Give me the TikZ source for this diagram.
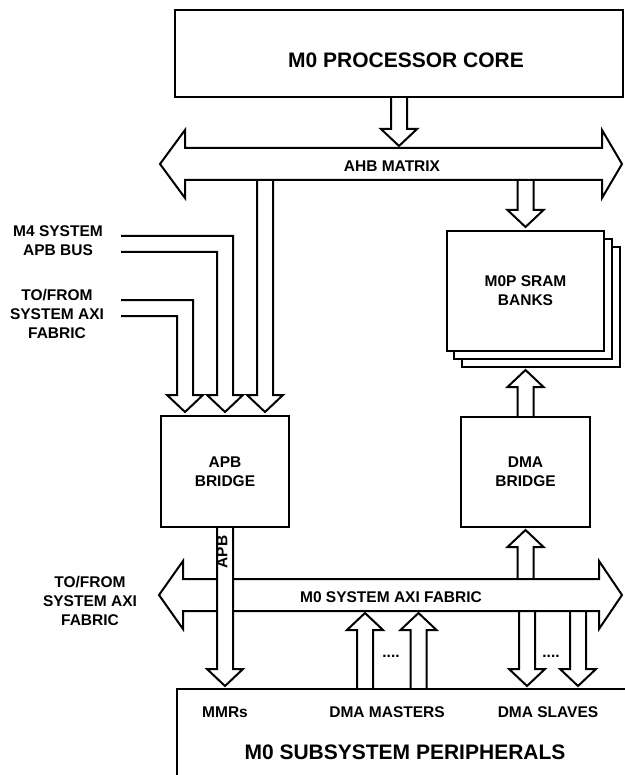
\documentclass[tikz,border=0pt]{standalone}
\usepackage{fontspec}
\setmainfont{Liberation Sans}
\usetikzlibrary{calc}

\tikzset{
  lbl/.style={font=\fontsize{15.5}{19}\selectfont\bfseries, align=center, inner sep=0pt},
  biglbl/.style={font=\fontsize{21}{25}\selectfont\bfseries, inner sep=0pt},
  box/.style={draw, fill=white, inner sep=0pt},
  bus/.style={draw, fill=white},
  % hollow block arrow, tail open, tip at target
  vbus/.style={to path={let \p1=(\tikztostart), \p2=(\tikztotarget),
      \p3=($(\tikztotarget)!17pt!(\tikztostart)$) in
      (\x2-8pt,\y1) -- (\x2-8pt,\y3) -- (\x2-18pt,\y3) -- (\x2,\y2)
      -- (\x2+18pt,\y3) -- (\x2+8pt,\y3) -- (\x2+8pt,\y1)}},
  % two lines from a label, bent down into a block arrow
  feed/.style={to path={let \p1=(\tikztostart), \p2=(\tikztotarget) in
      (\x1,\y1+8pt) -- (\x2+8pt,\y1+8pt) -- (\x2+8pt,\y2+17pt) -- (\x2+18pt,\y2+17pt)
      -- (\x2,\y2) -- (\x2-18pt,\y2+17pt) -- (\x2-8pt,\y2+17pt) -- (\x2-8pt,\y1-8pt)
      -- (\x1,\y1-8pt)}}
}

\begin{document}
\begin{tikzpicture}[x=1pt, y=-1pt, line width=2pt]
  \useasboundingbox (0,0) rectangle (624,775);

  % boxes
  \node[box, minimum width=448, minimum height=87] (core) at (399,53.5) {};
  \node[biglbl] (corelbl) at (406,60) {M0 PROCESSOR CORE};
  \node[box, minimum width=158, minimum height=120] (sram3) at (541,307) {};
  \node[box, minimum width=158, minimum height=120] (sram2) at (533,299) {};
  \node[box, lbl, minimum width=157, minimum height=120] (sram) at (525.5,291) {M0P SRAM\\BANKS};
  \node[box, lbl, minimum width=128, minimum height=111] (apb) at (225,471.5) {APB\\BRIDGE};
  \node[box, lbl, minimum width=129, minimum height=110] (dma) at (525.5,472) {DMA\\BRIDGE};
  \node[box, minimum width=470, minimum height=110, anchor=north west] (periph) at (176,688) {};

  % AHB matrix bus
  \draw[bus] (160,164) -- (185,130) -- (185,148) -- (602,148) -- (602,130) -- (622,164)
    -- (602,198) -- (602,180) -- (185,180) -- (185,198) -- cycle;
  \node[lbl] (ahb) at (392,166) {AHB MATRIX};
  \coordinate (ahbin) at (0,146);
  \coordinate (ahbout) at (0,180);

  % M0 system AXI fabric bus
  \draw[bus] (159,595) -- (183,561) -- (183,579) -- (599,579) -- (599,561) -- (622,595)
    -- (599,629) -- (599,611) -- (183,611) -- (183,629) -- cycle;
  \node[lbl] (axi) at (391,597) {M0 SYSTEM AXI FABRIC};
  \coordinate (axiup) at (0,579);
  \coordinate (axidown) at (0,611);
  \coordinate (axiin) at (0,613);
  \coordinate (periphin) at (0,686);

  % side labels
  \node[lbl] (m4) at (58,241) {M4 SYSTEM\\APB BUS};
  \node[lbl] (sysaxi) at (57,314) {TO/FROM\\SYSTEM AXI\\FABRIC};
  \node[lbl] (sysaxilow) at (90,601) {TO/FROM\\SYSTEM AXI\\FABRIC};
  \coordinate (m4in) at (121,244);
  \coordinate (sysin) at (121,308);

  % arrows into the APB bridge
  \coordinate (apbL) at ([xshift=-40pt,yshift=3pt]apb.north);
  \coordinate (apbM) at ([yshift=3pt]apb.north);
  \coordinate (apbR) at ([xshift=40pt,yshift=3pt]apb.north);
  \draw (sysin) to[feed] (apbL);
  \draw (m4in) to[feed] (apbM);
  \draw (apbR |- ahbout) to[vbus] (apbR);

  % core and SRAM arrows
  \draw (core.south) to[vbus] (core.south |- ahbin);
  \coordinate (sramin) at ([yshift=3pt]sram.north);
  \draw (sramin |- ahbout) to[vbus] (sramin);
  \coordinate (sramlow) at ([yshift=-2pt]sram3.south);
  \draw (dma.north) to[vbus] (dma.north |- sramlow);
  \draw (dma.south |- axiup) to[vbus] ([yshift=-2pt]dma.south);

  % APB channel over the AXI fabric
  \draw[fill=white] (apb.south) to[vbus] (apb.south |- periphin);
  \node[lbl, rotate=90] (apbch) at (222,552) {APB};

  % DMA masters and slaves
  \foreach \x [count=\i] in {365,418.5}{
    \coordinate (dm\i) at (\x,0);
    \draw (dm\i |- periph.north) to[vbus] (dm\i |- axiin);
  }
  \foreach \x [count=\i] in {527,578}{
    \coordinate (ds\i) at (\x,0);
    \draw (ds\i |- axidown) to[vbus] (ds\i |- periphin);
  }
  \node[lbl] (dotsm) at (391,656) {....};
  \node[lbl] (dotss) at (551,656) {....};

  % peripheral labels
  \node[lbl] (mmr) at (225,712) {MMRs};
  \node[lbl] (dmam) at (387,712) {DMA MASTERS};
  \node[lbl] (dmas) at (548,712) {DMA SLAVES};
  \node[biglbl] (periphlbl) at (405,752) {M0 SUBSYSTEM PERIPHERALS};
\end{tikzpicture}
\end{document}
